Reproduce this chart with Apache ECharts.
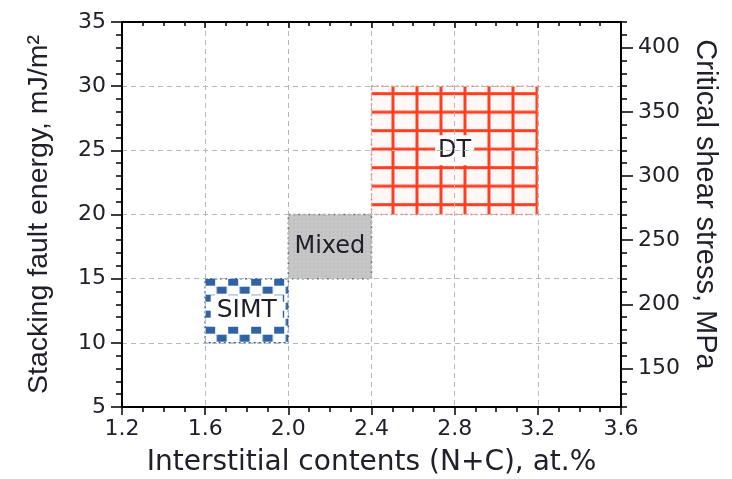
<!DOCTYPE html>
<html><head><meta charset="utf-8">
<script src="https://cdn.jsdelivr.net/npm/echarts@6/dist/echarts.min.js"></script>
<style>html,body{margin:0;padding:0;background:#fff}#c{width:732px;height:479px}</style>
</head><body><div id="c"></div>
<script>
// ---- data ----
const regionNames = ['SIMT', 'Mixed', 'DT'];
const xStart = [1.6, 2.0, 2.4];
const xEnd = [2.0, 2.4, 3.2];
const sfeStart = [10, 15, 20];
const sfeEnd = [15, 20, 30];
const xTicks = [1.2, 1.6, 2.0, 2.4, 2.8, 3.2, 3.6];
const sfeTicks = [5, 10, 15, 20, 25, 30, 35];
const cssTicks = [150, 200, 250, 300, 350, 400];
const cssRange = [120, 420];

// ---- patterns ----
function makeTile(w, h, draw) {
  const c = document.createElement('canvas');
  c.width = w; c.height = h;
  draw(c.getContext('2d'));
  return c;
}
const simtTile = makeTile(23, 16, g => {
  g.fillStyle = '#ffffff'; g.fillRect(0, 0, 23, 16);
  g.fillStyle = '#2f63a6';
  g.fillRect(0, 0, 10, 7);
  g.fillRect(11.5, 8, 10, 7);
});
const mixedTile = makeTile(4, 4, g => {
  g.fillStyle = '#c5c5c5'; g.fillRect(0, 0, 4, 4);
  g.fillStyle = '#b2b2b2'; g.fillRect(1, 1, 1, 1);
  g.fillStyle = '#d2d2d2'; g.fillRect(3, 2, 1, 1);
});
const dtTile = makeTile(24, 37, g => {
  g.fillStyle = '#fff8f6'; g.fillRect(0, 0, 24, 37);
  g.fillStyle = '#ff3f22';
  g.fillRect(20, 0, 3, 37);
  g.fillRect(0, 6, 24, 3);
  g.fillRect(0, 24.5, 24, 3);
});
const tiles = [simtTile, mixedTile, dtTile];
const strokes = ['#2f63a6', '#6f6f6f', '#f07a6a'];
const labelBg = ['#ffffff', null, '#fffafa'];
const labelPad = [[3, 6], [0, 0], [3, 3]];
const labelSize = [25, 24, 24];

const txt = '#20202c';
const tickFont = 'DejaVu Sans';

const chart = echarts.init(document.getElementById('c'), null, {renderer: 'canvas'});
const xInterval = +(xTicks[1] - xTicks[0]).toFixed(3);
const yInterval = sfeTicks[1] - sfeTicks[0];

const axisLine = {show: true, lineStyle: {color: '#000', width: 2}};
const dashed = {show: true, lineStyle: {color: '#b8b8b8', type: [5, 4], width: 1}};

chart.setOption({
  animation: false,
  grid: {left: 122, right: 111, top: 22, bottom: 72, outerBoundsMode: 'none', containLabel: false},
  xAxis: [{
    type: 'value', position: 'bottom',
    min: xTicks[0], max: xTicks[xTicks.length - 1], interval: xInterval,
    axisLine: axisLine,
    axisTick: {show: true, length: 8, lineStyle: {color: '#000', width: 1.5}},
    minorTick: {show: true, splitNumber: 4, length: 5, lineStyle: {color: '#000', width: 1.5}},
    splitLine: dashed,
    axisLabel: {formatter: v => v.toFixed(1), color: txt, fontSize: 22, fontFamily: tickFont, margin: 11},
    name: 'Interstitial contents (N+C), at.%', nameLocation: 'middle', nameGap: 42,
    nameTextStyle: {color: txt, fontSize: 28, fontFamily: tickFont}
  }, {
    type: 'value', position: 'top',
    min: xTicks[0], max: xTicks[xTicks.length - 1], interval: xInterval,
    axisLine: axisLine,
    axisTick: {show: true, inside: true, length: 6, lineStyle: {color: '#000', width: 1.5}},
    minorTick: {show: true, splitNumber: 4, length: 4, lineStyle: {color: '#000', width: 1.5}},
    splitLine: {show: false}, axisLabel: {show: false}
  }],
  yAxis: [{
    type: 'value', position: 'left',
    min: sfeTicks[0], max: sfeTicks[sfeTicks.length - 1], interval: yInterval,
    axisLine: axisLine,
    axisTick: {show: true, length: 11, lineStyle: {color: '#000', width: 1.5}},
    minorTick: {show: true, splitNumber: 5, length: 6, lineStyle: {color: '#000', width: 1.5}},
    splitLine: dashed,
    axisLabel: {color: txt, fontSize: 22, fontFamily: tickFont, margin: 16},
    name: 'Stacking fault energy, mJ/m²', nameLocation: 'middle', nameGap: 68,
    nameTextStyle: {color: txt, fontSize: 28.5, fontFamily: 'Liberation Sans'}
  }, {
    type: 'value', position: 'right',
    min: cssRange[0], max: cssRange[1], interval: 10,
    axisLine: axisLine,
    axisTick: {show: true, length: 6, lineStyle: {color: '#000', width: 1.5}},
    splitLine: {show: false}, axisLabel: {show: false}
  }, {
    type: 'value', position: 'right',
    min: cssRange[0], max: cssRange[1],
    axisLine: {show: false},
    axisTick: {show: true, length: 12, customValues: cssTicks, lineStyle: {color: '#000', width: 1.5}},
    splitLine: {show: false},
    axisLabel: {customValues: cssTicks, color: txt, fontSize: 22, fontFamily: tickFont, margin: 17},
    name: 'Critical shear stress, MPa', nameLocation: 'middle', nameGap: 62, nameRotate: -90,
    nameTextStyle: {color: txt, fontSize: 29, fontFamily: 'Liberation Sans', padding: [0, 20, 0, 0]}
  }],
  series: [{
    type: 'custom', xAxisIndex: 0, yAxisIndex: 0, z: -1,
    encode: {x: [0, 1], y: [2, 3]},
    data: regionNames.map((n, i) => [xStart[i], xEnd[i], sfeStart[i], sfeEnd[i]]),
    renderItem: function (params, api) {
      const i = params.dataIndex;
      const p0 = api.coord([api.value(0), api.value(3)]);
      const p1 = api.coord([api.value(1), api.value(2)]);
      const w = p1[0] - p0[0], h = p1[1] - p0[1];
      const textStyle = {
        text: regionNames[i], align: 'center', verticalAlign: 'middle',
        fontSize: labelSize[i], fontFamily: tickFont, fill: txt,
        padding: labelPad[i]
      };
      if (labelBg[i]) textStyle.backgroundColor = labelBg[i];
      return {
        type: 'group',
        children: [{
          type: 'rect',
          shape: {x: p0[0], y: p0[1], width: w, height: h},
          style: {
            fill: {image: tiles[i], repeat: 'repeat', x: p0[0], y: p0[1]},
            stroke: strokes[i], lineWidth: 1.5, lineDash: [2, 3]
          }
        }, {
          type: 'text', x: p0[0] + w / 2, y: p0[1] + h / 2,
          style: textStyle
        }]
      };
    }
  }]
});
</script>
</body></html>
